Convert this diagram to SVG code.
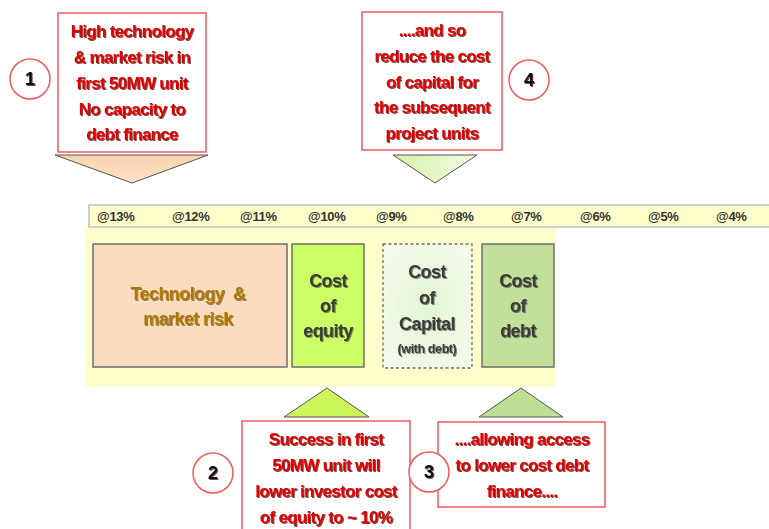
<svg xmlns="http://www.w3.org/2000/svg" width="769" height="529" viewBox="0 0 769 529">
<style>
.note{fill:#fff;stroke:#F05A5A;stroke-width:1.5}
.nt{font-family:"Liberation Sans",Arial,sans-serif;font-weight:bold;font-size:17px;fill:#E00000;text-anchor:middle;letter-spacing:-0.7px;filter:url(#sh)}
.num{font-family:"Liberation Sans",Arial,sans-serif;font-weight:bold;font-size:18px;fill:#111;text-anchor:middle;filter:url(#sh)}
.circ{fill:#fff;stroke:#F05A5A;stroke-width:1.5}
.tri{stroke:#555;stroke-width:1}
.blk{stroke:#6E6E6E;stroke-width:1.5}
.bt{font-family:"Liberation Sans",Arial,sans-serif;font-weight:bold;font-size:18px;fill:#3A3A3A;text-anchor:middle;letter-spacing:-0.6px;filter:url(#sh2)}
.ax{font-family:"Liberation Sans",Arial,sans-serif;font-weight:bold;font-size:13px;fill:#333;letter-spacing:-0.3px}
</style>
<defs>
<filter id="sh" x="-10%" y="-10%" width="120%" height="130%"><feDropShadow dx="1" dy="1" stdDeviation="0.3" flood-color="#300" flood-opacity="0.7"/></filter>
<filter id="sh2" x="-10%" y="-10%" width="120%" height="130%"><feDropShadow dx="1" dy="1" stdDeviation="0.3" flood-color="#000" flood-opacity="0.45"/></filter>
<radialGradient id="gcap" cx="50%" cy="50%" r="60%"><stop offset="0" stop-color="#E2F5D2"/><stop offset="1" stop-color="#F3FBEC"/></radialGradient>
<linearGradient id="g4" x1="0" y1="0" x2="1" y2="0"><stop offset="0" stop-color="#D6F0A8"/><stop offset="1" stop-color="#F4FBE6"/></linearGradient>
<linearGradient id="g1" x1="0" y1="0" x2="0" y2="1"><stop offset="0" stop-color="#F8D4AC"/><stop offset="1" stop-color="#FCE3C8"/></linearGradient>
</defs>

<g id="scale">
<rect x="89" y="205" width="690" height="22" fill="#FFFFCC" stroke="#A9B0BE" stroke-width="1.2"/>
<text class="ax" x="97" y="221">@13%</text>
<text class="ax" x="172" y="221">@12%</text>
<text class="ax" x="240" y="221">@11%</text>
<text class="ax" x="308" y="221">@10%</text>
<text class="ax" x="376" y="221">@9%</text>
<text class="ax" x="443" y="221">@8%</text>
<text class="ax" x="511" y="221">@7%</text>
<text class="ax" x="580" y="221">@6%</text>
<text class="ax" x="648" y="221">@5%</text>
<text class="ax" x="716" y="221">@4%</text>
</g>

<g id="band">
<rect x="85" y="228" width="470" height="159" fill="#FFFFCC"/>
</g>

<g id="tech">
<rect class="blk" x="93" y="244" width="194" height="123" fill="#FBDCBF"/>
<text class="bt" style="fill:#B07800" x="188" y="300" xml:space="preserve">Technology  &amp;</text>
<text class="bt" style="fill:#B07800" x="188" y="325">market risk</text>
</g>

<g id="equity">
<rect class="blk" x="292" y="244" width="72" height="123" fill="#CCFF66"/>
<text class="bt" x="328" y="287">Cost</text>
<text class="bt" x="328" y="312">of</text>
<text class="bt" x="328" y="337">equity</text>
</g>

<g id="capital">
<rect x="383" y="244" width="89" height="124" fill="url(#gcap)" stroke="#6E6E6E" stroke-width="1.3" stroke-dasharray="3,2.5"/>
<text class="bt" x="427" y="278">Cost</text>
<text class="bt" x="427" y="304">of</text>
<text class="bt" x="427" y="330">Capital</text>
<text class="bt" style="font-size:12.5px;letter-spacing:-0.4px" x="427" y="353">(with debt)</text>
</g>

<g id="debt">
<rect class="blk" x="482" y="244" width="72" height="123" fill="#C2E09A"/>
<text class="bt" x="518" y="287">Cost</text>
<text class="bt" x="518" y="312">of</text>
<text class="bt" x="518" y="337">debt</text>
</g>

<g id="connectors">
<polygon class="tri" points="55,155 208,155 132,183" fill="url(#g1)"/>
<polygon class="tri" points="393,155 477,155 435,183" fill="url(#g4)"/>
<polygon class="tri" points="284,417 369,417 327,388" fill="#CCF55A"/>
<polygon class="tri" points="479,417 563,417 521,388" fill="#BEE095"/>
</g>

<g id="note1">
<rect class="note" x="58" y="13" width="148" height="139"/>
<text class="nt" x="132" y="37">High technology</text>
<text class="nt" x="132" y="63">&amp; market risk in</text>
<text class="nt" x="132" y="89">first 50MW unit</text>
<text class="nt" x="132" y="115">No capacity to</text>
<text class="nt" x="132" y="140">debt finance</text>
</g>
<g id="c1">
<circle class="circ" cx="30" cy="79" r="20"/>
<text class="num" x="30" y="85">1</text>
</g>

<g id="note4">
<rect class="note" x="362" y="12" width="140" height="138"/>
<text class="nt" x="432" y="36">....and so</text>
<text class="nt" x="432" y="62">reduce the cost</text>
<text class="nt" x="432" y="88">of capital for</text>
<text class="nt" x="432" y="113">the subsequent</text>
<text class="nt" x="432" y="139">project units</text>
</g>
<g id="c4">
<circle class="circ" cx="529" cy="80" r="20"/>
<text class="num" x="529" y="86">4</text>
</g>

<g id="note2">
<rect class="note" x="242" y="421" width="168" height="120"/>
<text class="nt" x="326" y="445">Success in first</text>
<text class="nt" x="326" y="471">50MW unit will</text>
<text class="nt" x="326" y="497">lower investor cost</text>
<text class="nt" x="326" y="523">of equity to ~ 10%</text>
</g>
<g id="c2">
<circle class="circ" cx="213" cy="473" r="20"/>
<text class="num" x="213" y="479">2</text>
</g>

<g id="note3">
<rect class="note" x="438" y="422" width="167" height="85"/>
<text class="nt" x="522" y="445">....allowing access</text>
<text class="nt" x="522" y="471">to lower cost debt</text>
<text class="nt" x="522" y="497">finance....</text>
</g>
<g id="c3">
<circle class="circ" cx="429" cy="472" r="20"/>
<text class="num" x="429" y="478">3</text>
</g>
</svg>
